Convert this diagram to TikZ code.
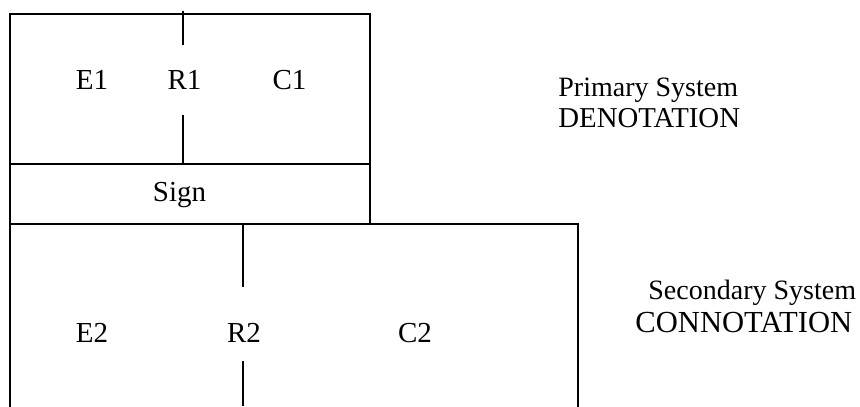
\documentclass[tikz,border=0pt]{standalone}
\usepackage{fontspec}
\setmainfont{Liberation Serif}
\begin{document}
\begin{tikzpicture}[x=0.5pt,y=-0.5pt,
  frame/.style={line width=1pt, line cap=rect},
  lbl/.style={font=\fontsize{14.5pt}{16pt}\selectfont, inner sep=0pt, anchor=base},
  side/.style={font=\fontsize{14pt}{16pt}\selectfont, inner sep=0pt, anchor=base west}]
\useasboundingbox (0,0) rectangle (860,406);
% outline coordinates
\coordinate (tl) at (10,14);
\coordinate (tr) at (370,14);
\coordinate (ml) at (10,164);
\coordinate (mr) at (370,164);
\coordinate (sl) at (10,224);
\coordinate (sr) at (370,224);
\coordinate (lr) at (578,224);
\coordinate (bl) at (10,406);
\coordinate (br) at (578,406);
% tick coordinates
\coordinate (t1a) at (183,11);
\coordinate (t1b) at (183,45);
\coordinate (t1c) at (183,115);
\coordinate (t1d) at (183,164);
\coordinate (t2a) at (243,224);
\coordinate (t2b) at (243,287);
\coordinate (t2c) at (243,361);
\coordinate (t2d) at (243,406);
% frames
\draw[frame] (bl) -- (tl) -- (tr) -- (sr);
\draw[frame] (ml) -- (mr);
\draw[frame] (sl) -- (lr) -- (br);
% ticks
\draw[frame, line cap=butt] (t1a) -- (t1b);
\draw[frame, line cap=butt] (t1c) -- (t1d);
\draw[frame, line cap=butt] (t2a) -- (t2b);
\draw[frame, line cap=butt] (t2c) -- (t2d);
% labels
\node[lbl] (e1) at (92,90) {E1};
\node[lbl] (r1) at (184.5,90) {R1};
\node[lbl] (c1) at (289.5,90) {C1};
\node[lbl] (sign) at (179.5,201) {Sign};
\node[lbl] (e2) at (92,342) {E2};
\node[lbl] (r2) at (244,342) {R2};
\node[lbl] (c2) at (415,342) {C2};
\node[side] (ps) at (558,97) {Primary System};
\node[side, font=\fontsize{14.4pt}{16pt}\selectfont] (den) at (558,128) {DENOTATION};
\node[side] (ss) at (648,299) {Secondary System};
\node[side, font=\fontsize{15.3pt}{16pt}\selectfont] (con) at (635,332) {CONNOTATION};
\end{tikzpicture}
\end{document}
